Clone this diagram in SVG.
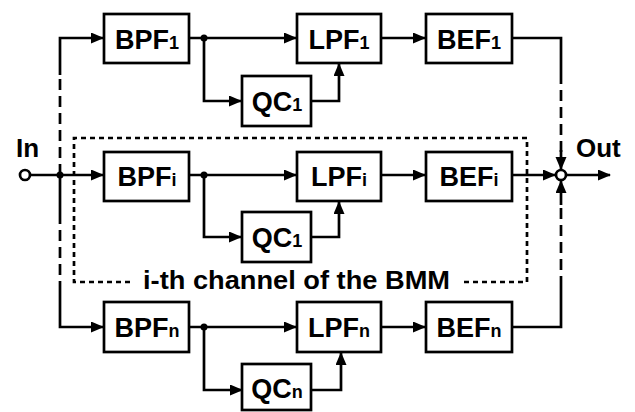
<svg xmlns="http://www.w3.org/2000/svg" width="635" height="412" viewBox="0 0 635 412">
<style>
.box{fill:#fff;stroke:#000;stroke-width:2.7}
.lbl{font-family:"Liberation Sans",Arial,sans-serif;font-weight:bold;font-size:27px;fill:#000;text-anchor:middle}
.sub{font-size:18px}
.ln{fill:none;stroke:#000;stroke-width:2.7}
.ds{stroke-dasharray:11 6}
.dt{stroke-dasharray:5 4}
.txt{font-family:"Liberation Sans",Arial,sans-serif;font-weight:bold;font-size:26px;fill:#000}
</style>
<defs>
<marker id="ah" markerUnits="userSpaceOnUse" markerWidth="14" markerHeight="12" refX="12" refY="5.5" orient="auto">
<path d="M0,0 L13,5.5 L0,11 z" fill="#000"/>
</marker>
</defs>
<rect width="635" height="412" fill="#fff"/>
<g id="connectors">
<circle cx="25" cy="175" r="5" fill="#fff" stroke="#000" stroke-width="2.7"/>
<path class="ln" d="M30,175 H103" marker-end="url(#ah)"/>
<circle cx="60" cy="175" r="3.5" fill="#000"/>
<path class="ln" d="M60,75 V38 H103" marker-end="url(#ah)"/>
<path class="ln ds" d="M60,175 V75"/>
<path class="ln" d="M60,175 V213"/>
<path class="ln ds" d="M60,213 V287"/>
<path class="ln" d="M60,287 V327 H103" marker-end="url(#ah)"/>
<circle cx="204" cy="38" r="3.5" fill="#000"/>
<path class="ln" d="M189,38 H296" marker-end="url(#ah)"/>
<path class="ln" d="M204,38 V101 H241" marker-end="url(#ah)"/>
<path class="ln" d="M311,101 H339 V64" marker-end="url(#ah)"/>
<path class="ln" d="M381,38 H425" marker-end="url(#ah)"/>
<path class="ln" d="M512,38 H561 V73"/>
<path class="ln ds" d="M561,73 V152"/>
<path class="ln" d="M561,150 V169" marker-end="url(#ah)"/>
<circle cx="204" cy="175" r="3.5" fill="#000"/>
<path class="ln" d="M189,175 H296" marker-end="url(#ah)"/>
<path class="ln" d="M204,175 V237 H241" marker-end="url(#ah)"/>
<path class="ln" d="M311,237 H339 V202" marker-end="url(#ah)"/>
<path class="ln" d="M381,175 H425" marker-end="url(#ah)"/>
<path class="ln" d="M512,175 H555" marker-end="url(#ah)"/>
<circle cx="204" cy="327" r="3.5" fill="#000"/>
<path class="ln" d="M189,327 H296" marker-end="url(#ah)"/>
<path class="ln" d="M204,327 V390 H242" marker-end="url(#ah)"/>
<path class="ln" d="M311,390 H341 V353" marker-end="url(#ah)"/>
<path class="ln" d="M381,327 H425" marker-end="url(#ah)"/>
<path class="ln" d="M512,327 H561 V287"/>
<path class="ln ds" d="M561,287 V203"/>
<path class="ln" d="M561,205 V181" marker-end="url(#ah)"/>
<circle cx="561" cy="175" r="5" fill="#fff" stroke="#000" stroke-width="2.7"/>
<path class="ln" d="M566,175 H610" marker-end="url(#ah)"/>
<path class="ln dt" d="M130,282 H74 V138 H527 V282 H463"/>
</g>
<g id="BPF1"><rect class="box" x="104" y="14" width="85" height="49"/><text class="lbl" x="147" y="49">BPF<tspan class="sub">1</tspan></text></g>
<g id="QC1_top"><rect class="box" x="242" y="76" width="69" height="50"/><text class="lbl" x="277" y="111">QC<tspan class="sub">1</tspan></text></g>
<g id="LPF1"><rect class="box" x="297" y="14" width="84" height="49"/><text class="lbl" x="339" y="49">LPF<tspan class="sub">1</tspan></text></g>
<g id="BEF1"><rect class="box" x="426" y="14" width="86" height="49"/><text class="lbl" x="469" y="49">BEF<tspan class="sub">1</tspan></text></g>
<g id="BPFi"><rect class="box" x="104" y="152" width="85" height="49"/><text class="lbl" x="147" y="186">BPF<tspan class="sub">i</tspan></text></g>
<g id="QC1_mid"><rect class="box" x="242" y="212" width="69" height="50"/><text class="lbl" x="277" y="247">QC<tspan class="sub">1</tspan></text></g>
<g id="LPFi"><rect class="box" x="297" y="152" width="84" height="49"/><text class="lbl" x="339" y="186">LPF<tspan class="sub">i</tspan></text></g>
<g id="BEFi"><rect class="box" x="426" y="152" width="86" height="49"/><text class="lbl" x="469" y="186">BEF<tspan class="sub">i</tspan></text></g>
<g id="BPFn"><rect class="box" x="104" y="302" width="85" height="50"/><text class="lbl" x="147" y="337">BPF<tspan class="sub">n</tspan></text></g>
<g id="QCn"><rect class="box" x="242" y="364" width="69" height="46"/><text class="lbl" x="277" y="398">QC<tspan class="sub">n</tspan></text></g>
<g id="LPFn"><rect class="box" x="297" y="302" width="84" height="50"/><text class="lbl" x="339" y="337">LPF<tspan class="sub">n</tspan></text></g>
<g id="BEFn"><rect class="box" x="426" y="302" width="86" height="50"/><text class="lbl" x="469" y="337">BEF<tspan class="sub">n</tspan></text></g>
<g id="labels">
<text class="txt" x="16" y="157">In</text>
<text class="txt" x="576" y="157">Out</text>
<text class="txt" x="143" y="289" textLength="307" lengthAdjust="spacingAndGlyphs">i-th channel of the BMM</text>
</g>
</svg>
